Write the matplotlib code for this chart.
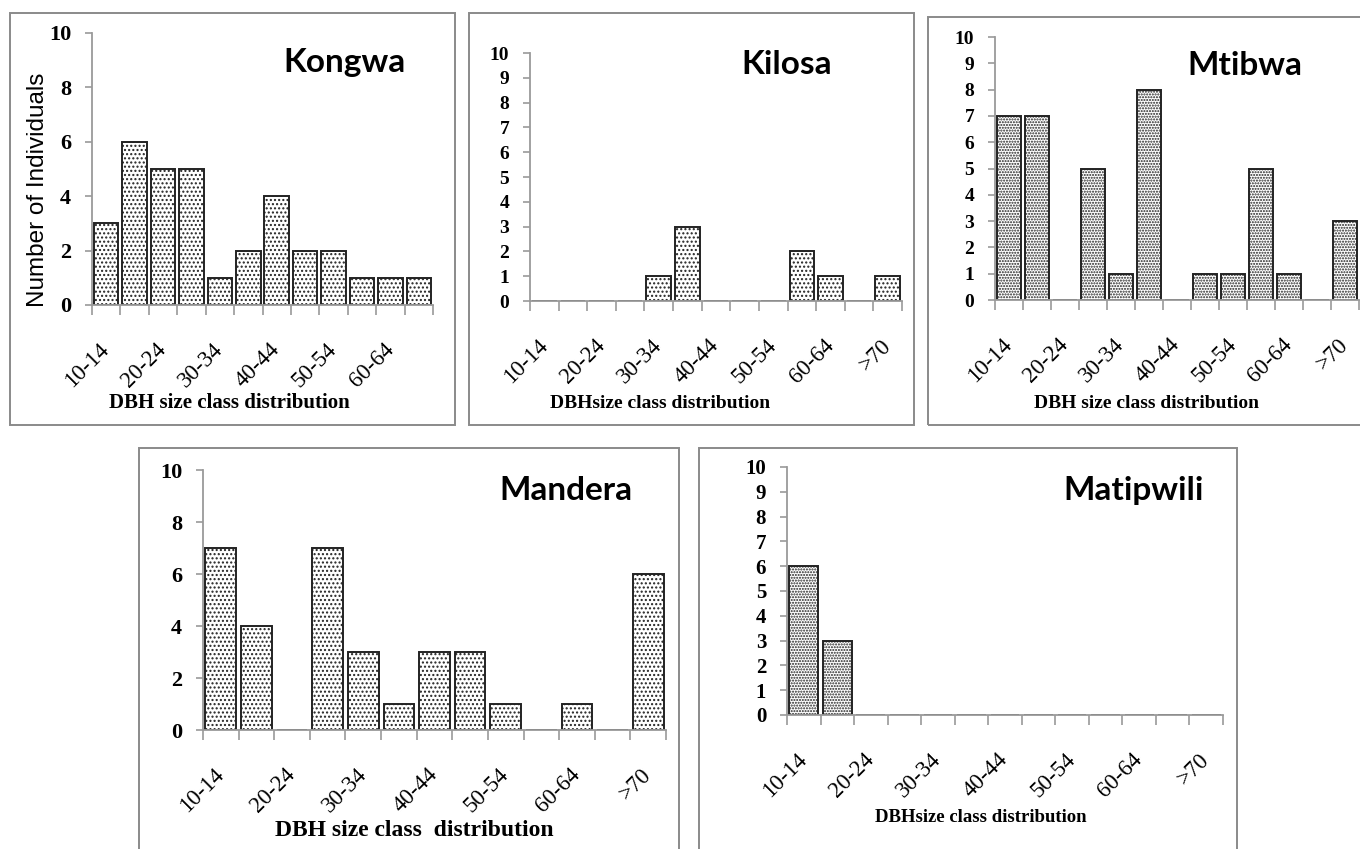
import matplotlib
matplotlib.use("Agg")
import matplotlib.pyplot as plt
from matplotlib.patches import Rectangle
from matplotlib.transforms import ScaledTranslation

W, H = 1360, 849

# DBH size classes
classes = ["10-14", "15-19", "20-24", "25-29", "30-34", "35-39", "40-44",
           "45-49", "50-54", "55-59", "60-64", "65-69", ">70"]

# Number of individuals per class at each site
kongwa = [3, 6, 5, 5, 1, 2, 4, 2, 2, 1, 1, 1]
kilosa = [0, 0, 0, 0, 1, 3, 0, 0, 0, 2, 1, 0, 1]
mtibwa = [7, 7, 0, 5, 1, 8, 0, 1, 1, 5, 1, 0, 3]
mandera = [7, 4, 0, 7, 3, 1, 3, 3, 1, 0, 1, 0, 6]
matipwili = [6, 3, 0, 0, 0, 0, 0, 0, 0, 0, 0, 0, 0]

SERIF = "Liberation Serif"
TITLE = "Lato"


def fx(x):
    return x / W


def fy(y):
    return 1 - y / H


def box(l, t, r, b):
    return [l / W, 1 - b / H, (r - l) / W, (b - t) / H]


fig = plt.figure(figsize=(W / 100, H / 100), dpi=100)

# panel frames (pixel coords: left, top, right, bottom)
frames = [(10, 13, 455, 425), (469, 13, 914, 425), (928, 17, 1372, 425),
          (139, 448, 679, 860), (699, 448, 1237, 860)]
for l, t, r, b in frames:
    fig.add_artist(Rectangle((fx(l), fy(b)), (r - l) / W, (b - t) / H,
                             transform=fig.transFigure, fill=False,
                             edgecolor="#8a8a8a", linewidth=1.4))

panels = [
    # values, axes box, title, title pos, ytick step, ytick size, hatch, xlabel, xlabel pos, xlabel size
    (kongwa, (92, 33, 433, 305), "Kongwa", (283, 72), 2, 16, "....",
     "DBH size class distribution", (229, 403), 15),
    (kilosa, (530, 53, 902, 301), "Kilosa", (741, 74), 1, 14, "....",
     "DBHsize class distribution", (660, 403), 14),
    (mtibwa, (995, 37, 1359, 300), "Mtibwa", (1187, 75), 1, 14, "......",
     "DBH size class distribution", (1147, 403), 14),
    (mandera, (203, 470, 666, 730), "Mandera", (499, 500), 2, 16, "....",
     "DBH size class  distribution", (414, 830), 17),
    (matipwili, (787, 467, 1223, 715), "Matipwili", (1063, 500), 1, 15, "......",
     "DBHsize class distribution", (981, 818), 13.5),
]

shift = ScaledTranslation(5 / 100, 0, fig.dpi_scale_trans)

for vals, (l, t, r, b), title, (tx, ty), step, ysz, hatch, xl, (lx, ly), xsz in panels:
    ax = fig.add_axes(box(l, t, r, b))
    n = len(vals)
    pos = list(range(n))
    ax.bar(pos, vals, width=0.86, color="white", edgecolor="#222222",
           linewidth=1.4, hatch=hatch)
    ax.set_xlim(-0.5, n - 0.5)
    ax.set_ylim(0, 10)

    for s in ["top", "right"]:
        ax.spines[s].set_visible(False)
    for s in ["left", "bottom"]:
        ax.spines[s].set_color("#9a9a9a")
        ax.spines[s].set_linewidth(1.3)

    ax.set_yticks(range(0, 11, step))
    ax.set_yticklabels([str(v) for v in range(0, 11, step)],
                       fontfamily=SERIF, fontweight="bold", fontsize=ysz)
    ax.tick_params(axis="y", length=5, color="#9a9a9a", width=1.2, pad=10)

    lab_pos = pos[::2]
    ax.set_xticks(lab_pos)
    ax.set_xticklabels([classes[i] for i in lab_pos], rotation=45, ha="right",
                       va="center", rotation_mode="anchor",
                       fontfamily=SERIF, fontsize=16.5)
    for lab in ax.get_xticklabels():
        lab.set_transform(lab.get_transform() + shift)
    ax.tick_params(axis="x", which="major", length=0, pad=30)
    ax.set_xticks([i - 0.5 for i in range(n + 1)], minor=True)
    ax.tick_params(axis="x", which="minor", length=7, color="#9a9a9a", width=1.2)

    fig.text(fx(tx), fy(ty), title, fontfamily=TITLE, fontweight="bold",
             fontsize=24, ha="left", va="baseline")
    fig.text(fx(lx), fy(ly), xl, fontfamily=SERIF, fontweight="bold",
             fontsize=xsz, ha="center", va="center")

fig.text(fx(38), fy(190), "Number of Individuals", rotation=90,
         fontfamily="Liberation Sans", fontsize=17.5, ha="center", va="center")

fig.savefig("out.png", dpi=100)
